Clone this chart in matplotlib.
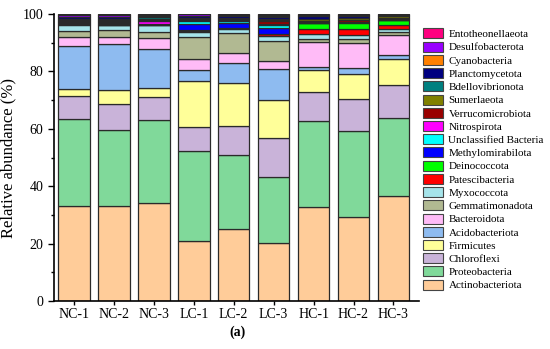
import matplotlib
matplotlib.use("Agg")
import matplotlib.pyplot as plt
import numpy as np
from matplotlib.patches import Patch
from matplotlib.ticker import MultipleLocator

plt.rcParams['font.family'] = ['Liberation Serif', 'DejaVu Serif']

samples = ["NC-1", "NC-2", "NC-3", "LC-1", "LC-2", "LC-3", "HC-1", "HC-2", "HC-3"]

# stacked bottom -> top
phyla = ["Actinobacteriota", "Proteobacteria", "Chloroflexi", "Firmicutes",
         "Acidobacteriota", "Bacteroidota", "Gemmatimonadota", "Myxococcota",
         "Patescibacteria", "Deinococcota", "Methylomirabilota",
         "Unclassified Bacteria", "Nitrospirota", "Verrucomicrobiota",
         "Sumerlaeota", "Bdellovibrionota", "Planctomycetota", "Cyanobacteria",
         "Desulfobacterota", "Entotheonellaeota"]

actino   = [33.2, 33.2, 34.3, 20.9, 25.1, 20.2, 32.8, 29.3, 36.6]
proteo   = [30.1, 26.3, 28.7, 31.5, 25.8, 22.9, 29.8, 29.9, 27.2]
chloro   = [8.1, 9.1, 8.0, 8.2, 10.0, 13.8, 10.2, 11.3, 11.4]
firmi    = [2.6, 4.9, 3.3, 16.2, 14.9, 13.2, 7.6, 8.6, 9.2]
acido    = [14.9, 15.9, 13.5, 3.8, 7.2, 10.7, 1.1, 2.2, 1.2]
bactero  = [3.2, 2.6, 3.7, 3.6, 3.3, 2.9, 8.6, 8.5, 7.2]
gemma    = [2.1, 2.5, 2.3, 7.9, 7.0, 6.8, 1.1, 1.5, 1.1]
myxo     = [2.1, 1.5, 2.2, 1.7, 1.6, 2.0, 1.8, 1.5, 1.0]
patesci  = [0.1, 0.1, 0.1, 0.3, 0.2, 0.5, 1.7, 1.9, 1.2]
deino    = [0.1, 0.1, 0.1, 0.2, 0.1, 0.1, 2.1, 2.3, 1.7]
methylo  = [0.2, 0.2, 0.2, 2.1, 1.5, 1.9, 0.1, 0.1, 0.1]
unclass  = [0.2, 0.3, 0.2, 1.3, 1.0, 1.3, 0.1, 0.1, 0.1]
nitro    = [0.3, 0.4, 0.8, 0.2, 0.2, 0.3, 0.1, 0.1, 0.1]
verruco  = [0.5, 0.5, 0.6, 0.3, 0.3, 0.9, 0.3, 0.6, 0.5]
sumer    = [0.3, 0.2, 0.3, 0.2, 0.2, 0.3, 0.8, 0.6, 0.6]
bdello   = [0.3, 0.6, 0.5, 0.2, 0.2, 0.4, 0.2, 0.2, 0.1]
plancto  = [0.6, 0.5, 0.5, 0.6, 0.8, 0.7, 0.8, 0.7, 0.4]
cyano    = [0.2, 0.1, 0.2, 0.2, 0.1, 0.4, 0.2, 0.2, 0.1]
desulfo  = [0.6, 0.7, 0.2, 0.5, 0.3, 0.3, 0.3, 0.2, 0.1]
entotheo = [0.3, 0.3, 0.3, 0.1, 0.2, 0.4, 0.3, 0.2, 0.1]

values = [actino, proteo, chloro, firmi, acido, bactero, gemma, myxo, patesci,
          deino, methylo, unclass, nitro, verruco, sumer, bdello, plancto,
          cyano, desulfo, entotheo]

colors = ["#FFCC99", "#80D99A", "#C9B3D9", "#FFFF99", "#8EBBF0", "#FFBBF7",
          "#B1B992", "#A6E4EA", "#FF0000", "#00FF00", "#0000FF", "#00FFFF",
          "#FF00FF", "#990000", "#808000", "#008080", "#000080", "#FF8000",
          "#9900FF", "#FF0080"]

fig = plt.figure(figsize=(5.5, 3.49), dpi=100)
ax = fig.add_axes([54 / 550, 48 / 349, (419 - 54) / 550, (301 - 14) / 349])

x = np.arange(len(samples))
bottom = np.zeros(len(samples))
for name, vals, c in zip(phyla, values, colors):
    ax.bar(x, vals, 0.79, bottom=bottom, color=c, edgecolor="#2a2a2a",
           linewidth=0.9, label=name)
    bottom += np.array(vals)

ax.set_xlim(-0.5, 8.64)
ax.set_ylim(0, 100)
ax.set_xticks(x)
ax.set_xticklabels(samples, fontsize=10)
ax.yaxis.set_major_locator(MultipleLocator(20))
ax.yaxis.set_minor_locator(MultipleLocator(10))
ax.tick_params(axis='y', labelsize=10, length=4, width=1)
ax.tick_params(axis='y', which='minor', length=2.5, width=1)
ax.tick_params(axis='x', length=3, width=1, pad=2)
ax.set_ylabel("Relative abundance (%)", fontsize=12)
ax.yaxis.set_label_coords(-38 / 365, 0.5)
for s in ["top", "right"]:
    ax.spines[s].set_visible(False)
for s in ["left", "bottom"]:
    ax.spines[s].set_linewidth(1.2)

handles = [Patch(facecolor=c, edgecolor="#444444", linewidth=0.8) for c in colors]
fig.legend(handles[::-1], phyla[::-1], loc="upper left",
           bbox_to_anchor=(419 / 550, 1 - 24 / 349), frameon=False,
           fontsize=8, handlelength=1.8, handleheight=1.0,
           labelspacing=0.22, handletextpad=0.45, borderaxespad=0)

fig.text(238 / 550, 1 - 332 / 349, "(a)", fontsize=10, fontweight="bold",
         ha="center", va="center")

fig.savefig("out.png", dpi=100)
